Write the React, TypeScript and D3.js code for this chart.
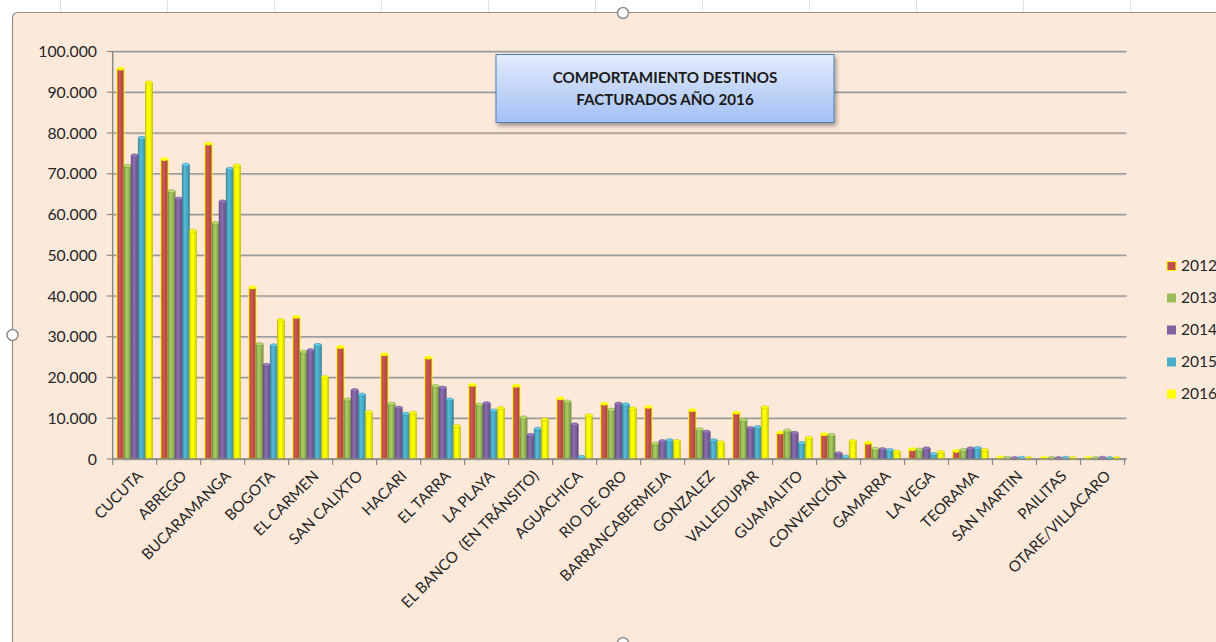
import React from "react";
import * as d3 from "d3";

const categories = ["CUCUTA","ABREGO","BUCARAMANGA","BOGOTA","EL CARMEN","SAN CALIXTO","HACARI","EL TARRA","LA PLAYA","EL BANCO  (EN TRÁNSITO)","AGUACHICA","RIO DE ORO","BARRANCABERMEJA","GONZALEZ","VALLEDUPAR","GUAMALITO","CONVENCIÓN","GAMARRA","LA VEGA","TEORAMA","SAN MARTIN","PAILITAS","OTARE/VILLACARO"];
const seriesNames = ["2012","2013","2014","2015","2016"];
const v2012 = [95800, 73600, 77400, 42100, 34900, 27500, 25700, 24900, 18200, 18000, 14900, 13600, 12800, 12000, 11400, 6500, 6100, 4000, 2400, 2000, 400, 300, 300];
const v2013 = [71900, 65700, 57900, 28200, 26300, 14600, 13600, 17900, 13300, 10200, 14100, 12100, 3800, 7300, 9600, 7000, 5900, 2500, 2300, 2200, 300, 200, 200];
const v2014 = [74500, 63900, 63200, 23100, 26700, 16900, 12600, 17500, 13700, 5900, 8500, 13600, 4400, 6700, 7600, 6400, 1400, 2400, 2600, 2600, 200, 200, 300];
const v2015 = [78800, 72200, 71200, 27900, 28000, 15800, 11100, 14600, 11900, 7400, 500, 13400, 4600, 4600, 7800, 3900, 600, 2200, 1200, 2700, 300, 300, 200];
const v2016 = [92400, 56000, 72000, 34100, 20100, 11500, 11300, 8100, 12500, 9700, 10700, 12400, 4400, 4100, 12700, 5200, 4400, 1800, 1700, 2200, 200, 200, 200];
const yTicks = [0, 10000, 20000, 30000, 40000, 50000, 60000, 70000, 80000, 90000, 100000];
const colors = ["#C0504D", "#9BBB59", "#8064A2", "#4BACC6", "#FFFF00"];
const titleLines = ["COMPORTAMIENTO DESTINOS", "FACTURADOS AÑO 2016"];

const W = 1216, H = 642;
const FONT = "Lato, 'Open Sans', sans-serif";

export default function App() {
  const values = [v2012, v2013, v2014, v2015, v2016];
  const x0 = d3.scaleBand<string>().domain(categories).range([112.7, 1124.5]).paddingInner(0).paddingOuter(0);
  const x1 = d3.scaleBand<string>().domain(seriesNames).range([0, x0.bandwidth()]).paddingOuter(0.6).paddingInner(0);
  const y = d3.scaleLinear().domain([0, 100000]).range([459, 51.5]);
  const fmt = (v: number) => d3.format(",")(v).replace(/,/g, ".");
  const bw = x1.bandwidth();
  const x0L = x0.range()[0], x0R = x0.range()[1];

  return (
    <svg width={W} height={H} style={{ position: "absolute", left: 0, top: 0, background: "#fff" }}>
      <defs>
        {colors.map((c, i) => {
          const dark = d3.color(c)!.darker(0.6).formatHex();
          const light = d3.color(c)!.brighter(0.25).formatHex();
          return (
            <linearGradient key={i} id={`g${i}`} x1="0" x2="1" y1="0" y2="0">
              <stop offset="0%" stopColor={dark} />
              <stop offset="35%" stopColor={light} />
              <stop offset="60%" stopColor={c} />
              <stop offset="100%" stopColor={dark} />
            </linearGradient>
          );
        })}
        <linearGradient id="titleG" x1="0" x2="0" y1="0" y2="1">
          <stop offset="0%" stopColor="#e3ecfc" />
          <stop offset="100%" stopColor="#a3c0f4" />
        </linearGradient>
        <filter id="sh" x="-10%" y="-20%" width="130%" height="160%">
          <feDropShadow dx="2" dy="3" stdDeviation="2" floodColor="#000" floodOpacity="0.35" />
        </filter>
      </defs>

      {/* spreadsheet column marks above chart */}
      {d3.range(0, 12).map(i => (
        <line key={i} x1={60.5 + i * 107} x2={60.5 + i * 107} y1={0} y2={12} stroke="#e0e0e0" />
      ))}

      {/* chart area */}
      <rect x={12.5} y={12.5} width={1240} height={660} rx={5} fill="#FDE9DA" stroke="#8f8f8f" strokeWidth={1.2} />

      {/* gridlines */}
      {yTicks.map(t => (
        <g key={t}>
          <line x1={x0L} x2={x0R + 2} y1={y(t) + 1} y2={y(t) + 1} stroke="#d9cbc1" strokeWidth={1} />
          <line x1={x0L} x2={x0R + 2} y1={y(t)} y2={y(t)} stroke="#9c9c9c" strokeWidth={1.6} />
        </g>
      ))}

      {/* axes */}
      <line x1={x0L} x2={x0L} y1={y(100000)} y2={y(0)} stroke="#8a8a8a" strokeWidth={1.5} />
      {yTicks.map(t => (
        <line key={t} x1={x0L - 6} x2={x0L} y1={y(t)} y2={y(t)} stroke="#8a8a8a" strokeWidth={1.2} />
      ))}
      {yTicks.map(t => (
        <text key={t} x={97} y={y(t)} dy="0.35em" textAnchor="end" fontFamily={FONT} fontSize={15.8} fill="#262626">
          {fmt(t)}
        </text>
      ))}

      {/* bars */}
      {categories.map((c, ci) => (
        <g key={c} transform={`translate(${x0(c)},0)`}>
          {seriesNames.map((s, si) => {
            const v = values[si][ci];
            const bx = x1(s)!;
            const top = y(v);
            const h = y(0) - top;
            const col = colors[si];
            const stroke = si === 0 ? "#FFFF00" : d3.color(col)!.darker(0.8).formatHex();
            const cap = si === 0 ? "#FFFF00" : d3.color(col)!.brighter(0.5).formatHex();
            return (
              <g key={s}>
                <rect x={bx} y={top} width={bw} height={h} fill={`url(#g${si})`} stroke={stroke} strokeWidth={si === 0 ? 1 : 0.7} />
                <ellipse cx={bx + bw / 2} cy={top} rx={bw / 2} ry={1.6} fill={cap} stroke={stroke} strokeWidth={0.5} />
              </g>
            );
          })}
        </g>
      ))}

      <line x1={x0L} x2={x0R + 2} y1={y(0)} y2={y(0)} stroke="#8a8a8a" strokeWidth={1.6} />
      {categories.map((c, i) => (
        <line key={c} x1={x0(c)!} x2={x0(c)!} y1={y(0)} y2={y(0) + 6} stroke="#8a8a8a" strokeWidth={1.2} />
      ))}
      <line x1={x0R} x2={x0R} y1={y(0)} y2={y(0) + 6} stroke="#8a8a8a" strokeWidth={1.2} />

      {/* x labels */}
      {categories.map(c => {
        const cx = x0(c)! + x0.bandwidth() / 2 + 9;
        const cy = y(0) + 18;
        return (
          <text key={c} transform={`translate(${cx},${cy}) rotate(-45)`} textAnchor="end" fontFamily={FONT}
            fontSize={15.2} fill="#262626" style={{ whiteSpace: "pre" }}>
            {c}
          </text>
        );
      })}

      {/* title box */}
      <rect x={496} y={54.5} width={338} height={68} fill="url(#titleG)" stroke="#4a7ebb" strokeWidth={1} filter="url(#sh)" />
      {titleLines.map((t, i) => (
        <text key={t} x={665} y={77.5 + i * 22} dy="0.35em" textAnchor="middle" fontFamily={FONT} fontWeight="bold"
          fontSize={15.2} fill="#1a1a1a">
          {t}
        </text>
      ))}

      {/* legend */}
      {seriesNames.map((s, i) => (
        <g key={s} transform={`translate(1167,${266 + i * 32})`}>
          <rect x={0} y={-4.5} width={9} height={9} fill={colors[i]} stroke={i === 0 ? "#FFFF00" : "none"} strokeWidth={1} />
          <text x={14} y={0} dy="0.35em" fontFamily={FONT} fontSize={15.5} fill="#262626">{s}</text>
        </g>
      ))}

      {/* selection handles */}
      <circle cx={623} cy={13} r={5.5} fill="#fff" stroke="#8f8f8f" strokeWidth={1.5} />
      <circle cx={12.5} cy={335} r={5.5} fill="#fff" stroke="#8f8f8f" strokeWidth={1.5} />
      <circle cx={623} cy={643} r={5.5} fill="#fff" stroke="#8f8f8f" strokeWidth={1.5} />
    </svg>
  );
}
